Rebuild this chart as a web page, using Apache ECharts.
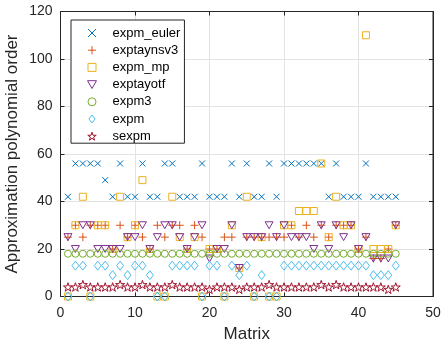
<!DOCTYPE html>
<html><head><meta charset="utf-8">
<script src="https://cdn.jsdelivr.net/npm/echarts@6/dist/echarts.min.js"></script>
<style>html,body{margin:0;padding:0;background:#fff}#c{width:443px;height:345px}</style>
</head><body><div id="c"></div>
<script>
const matrices = Array.from({length:45},(_,k)=>k+1);
const expm_euler = [42,56,56,56,56,49,42,56,42,42,56,42,42,56,56,42,42,42,56,42,42,42,56,42,56,42,42,56,42,56,56,56,56,56,56,42,56,42,42,42,56,42,42,42,42];
const exptaynsv3 = [25,30,25,30,30,30,20,30,25,30,25,20,30,25,30,30,20,30,25,20,20,25,25,12,25,25,25,25,25,25,30,25,30,25,30,25,30,30,30,20,25,16,16,20,30];
const expm_mp    = [0,30,42,0,30,30,20,42,25,30,49,20,0,0,42,25,20,25,0,20,20,0,30,12,42,0,25,0,0,30,30,36,36,36,56,25,42,30,30,20,110,20,20,20,30];
const exptayotf  = [25,20,30,30,20,20,20,20,25,25,30,20,25,30,30,25,20,25,30,16,20,20,30,12,25,25,25,30,25,30,25,25,25,20,30,20,30,25,30,20,25,16,16,16,30];
const expm3      = [18,18,18,18,18,18,18,18,18,18,18,18,18,18,18,18,18,18,18,18,18,18,18,18,18,18,18,18,18,18,18,18,18,18,18,18,18,18,18,18,18,18,18,18,18];
const expm       = [0,13,13,0,13,13,9,13,9,13,13,9,0,0,13,13,13,13,0,13,13,0,13,9,13,0,9,0,0,13,13,13,13,13,13,13,13,13,13,13,13,9,9,9,13];
const sexpm      = [4,4,5,4,4,4,4,5,4,4,5,4,4,4,5,4,4,4,4,3,4,4,4,3,4,4,4,5,4,4,4,4,4,4,5,4,5,4,4,4,4,4,4,3,4];
const xTicks = [0,10,20,30,40,50];
const yTicks = [0,20,40,60,80,100,120];

const names = ['expm_euler','exptaynsv3','expm_mp','exptayotf','expm3','expm','sexpm'];
const datas = [expm_euler,exptaynsv3,expm_mp,exptayotf,expm3,expm,sexpm];
const colors = ['#0072BD','#D95319','#EDB120','#7E2F8E','#77AC30','#4DBEEE','#A2142F'];
const symbols = [
  'path://M0,0L10,10M10,0L0,10',
  'path://M5,0L5,10M0,5L10,5',
  'path://M0,0L10,0L10,10L0,10Z',
  'path://M0,0L10,0L5,8.66Z',
  'circle',
  'path://M5,0L10,6.5L5,13L0,6.5Z',
  'path://M10,0L12.245,6.91L19.51,6.91L13.633,11.18L15.878,18.09L10,13.82L4.122,18.09L6.367,11.18L0.49,6.91L7.755,6.91Z'
];
const sizes = [6,8,7,8,7,9,9];

const series = names.map((n,s)=>({
  name:n, type:'scatter',
  data: matrices.map((m,k)=>[m, datas[s][k]]),
  symbol: symbols[s], symbolSize: sizes[s], symbolKeepAspect:true,
  itemStyle:{color:'rgba(0,0,0,0)', borderColor:colors[s], borderWidth:1, opacity:1},
  emphasis:{disabled:true}, animation:false
}));

const axisCol = '#262626';
const chart = echarts.init(document.getElementById('c'), null, {renderer:'canvas'});
chart.setOption({
  animation:false,
  backgroundColor:'#fff',
  grid:{left:60.5, right:10, top:11.5, bottom:48.5, outerBoundsMode:'none', containLabel:false, show:true, borderColor:axisCol, borderWidth:1, backgroundColor:'transparent'},
  legend:{
    orient:'vertical', left:71, top:20, data:names,
    itemWidth:9, itemHeight:8, itemGap:3.2, symbolKeepAspect:true,
    padding:[6,4,0,16],
    itemStyle:{borderWidth:1},
    borderColor:axisCol, borderWidth:1, backgroundColor:'#fff',
    textStyle:{fontFamily:'Liberation Sans, Arial', fontSize:13, color:'#000', lineHeight:14, padding:[0,0,0,11]},
    selectedMode:false
  },
  xAxis:[{
    type:'value', min:0, max:50, interval:10,
    name:'Matrix', nameLocation:'middle', nameGap:29, nameMoveOverlap:false,
    nameTextStyle:{fontFamily:'Liberation Sans, Arial', fontSize:17, color:axisCol},
    axisLine:{show:true, onZero:false, lineStyle:{color:axisCol}},
    axisTick:{show:true, inside:true, length:4, lineStyle:{color:axisCol}},
    axisLabel:{fontFamily:'Liberation Sans, Arial', fontSize:14, color:axisCol, margin:10},
    splitLine:{show:true, lineStyle:{color:'#e3e3e3', width:1}}
  },{
    type:'value', min:0, max:50, interval:10, position:'top',
    axisLine:{show:true, onZero:false, lineStyle:{color:axisCol}},
    axisTick:{show:true, inside:true, length:4, lineStyle:{color:axisCol}},
    axisLabel:{show:false}, splitLine:{show:false}
  }],
  yAxis:[{
    type:'value', min:0, max:120, interval:20,
    name:'Approximation polynomial order', nameLocation:'middle', nameGap:40, nameMoveOverlap:false,
    nameTextStyle:{fontFamily:'Liberation Sans, Arial', fontSize:17, color:axisCol},
    axisLine:{show:true, onZero:false, lineStyle:{color:axisCol}},
    axisTick:{show:true, inside:true, length:4, lineStyle:{color:axisCol}},
    axisLabel:{fontFamily:'Liberation Sans, Arial', fontSize:14, color:axisCol, margin:8},
    splitLine:{show:true, lineStyle:{color:'#e3e3e3', width:1}}
  },{
    type:'value', min:0, max:120, interval:20, position:'right',
    axisLine:{show:true, onZero:false, lineStyle:{color:axisCol}},
    axisTick:{show:true, inside:true, length:4, lineStyle:{color:axisCol}},
    axisLabel:{show:false}, splitLine:{show:false}
  }],
  series: series
});
</script></body></html>
